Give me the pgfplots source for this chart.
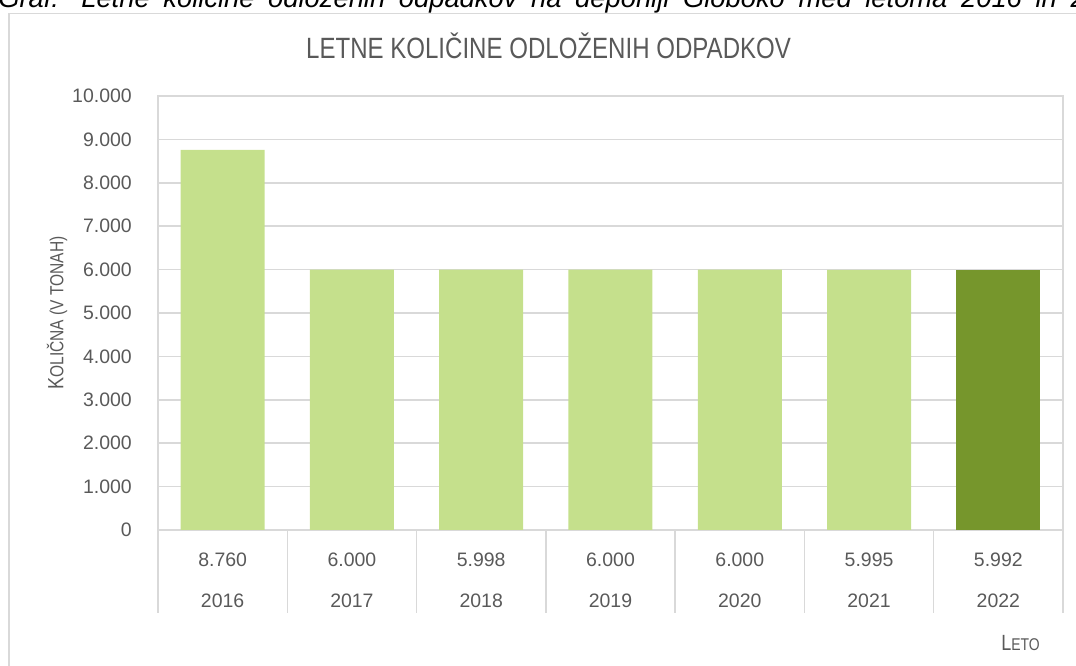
\documentclass[border=0pt]{standalone}
\usepackage{pgfplots}
\pgfplotsset{compat=1.18}
\usepackage{fontspec}
\setmainfont{Liberation Sans}
\newfontfamily\narrow[FakeStretch=0.82]{Liberation Sans}
\definecolor{lightgreen}{HTML}{C5E08C}
\definecolor{darkgreen}{HTML}{76962C}
\definecolor{txt}{HTML}{595959}
\definecolor{gridgray}{HTML}{D9D9D9}
\begin{document}
\begin{tikzpicture}
\useasboundingbox (0pt,0pt) rectangle (807pt,-499.5pt);
% outer frame
\draw[gridgray, line width=1.2pt] (6.75pt,-10pt) rectangle (900pt,-600pt);
% cropped caption (cut at the top edge as in the reference)
\node[anchor=base west, inner sep=0pt, text=black, font=\fontsize{20.5pt}{22pt}\selectfont\itshape] at (-1.5pt,-6pt) {\makebox[850pt][s]{Graf: Letne količine odloženih odpadkov na deponiji Globoko med letoma 2016 in 2022}};
% title
\node[anchor=base, inner sep=0pt, text=txt, font=\narrow\fontsize{22pt}{24pt}\selectfont] at (411.4pt,-44.25pt) {LETNE KOLIČINE ODLOŽENIH ODPADKOV};
% y label
\node[rotate=90, inner sep=0pt, text=txt, font=\narrow] at (42.75pt,-234.75pt) {{\fontsize{16.5pt}{18pt}\selectfont K}{\fontsize{14.2pt}{16pt}\selectfont OLIČNA (V TONAH)}};
% x label
\node[anchor=base east, inner sep=0pt, text=txt, font=\narrow] at (780pt,-488.25pt) {{\fontsize{16.5pt}{18pt}\selectfont L}{\fontsize{12.75pt}{14pt}\selectfont ETO}};
\begin{axis}[
  at={(118.5pt,-397.5pt)}, anchor=south west,
  scale only axis, width=678.75pt, height=325.5pt,
  xmin=-0.5, xmax=6.5, ymin=0, ymax=10000,
  clip=false,
  ybar, bar width=63pt,
  axis line style={draw=gridgray, line width=1.1pt},
  ymajorgrids, grid style={draw=gridgray, line width=1.1pt},
  ytick={0,1000,...,10000},
  scaled y ticks=false,
  /pgf/number format/.cd, fixed, 1000 sep={.}, assume math mode=true, /pgfplots/.cd,
  major tick length=0pt,
  xtick style={draw=none}, ytick style={draw=none},
  yticklabel style={font=\fontsize{14.6pt}{16pt}\selectfont, text=txt, inner sep=0pt, xshift=-19.5pt},
  xtick={0,1,2,3,4,5,6},
  xticklabels={{8.760\\2016},{6.000\\2017},{5.998\\2018},{6.000\\2019},{6.000\\2020},{5.995\\2021},{5.992\\2022}},
  xticklabel style={align=center, font=\fontsize{14.6pt}{30.75pt}\selectfont, text=txt, inner sep=0pt, anchor=north, yshift=-17.25pt},
]
\addplot[fill=lightgreen, draw=none, bar shift=0pt] coordinates {(0,8760) (1,6000) (2,5998) (3,6000) (4,6000) (5,5995)};
\addplot[fill=darkgreen, draw=none, bar shift=0pt] coordinates {(6,5992)};
\pgfplotsinvokeforeach{-0.5,0.5,1.5,2.5,3.5,4.5,5.5,6.5}{
  \draw[gridgray, line width=1.1pt] (axis cs:#1,0) -- ++(0pt,-62.25pt);
}
\end{axis}
\end{tikzpicture}
\end{document}
